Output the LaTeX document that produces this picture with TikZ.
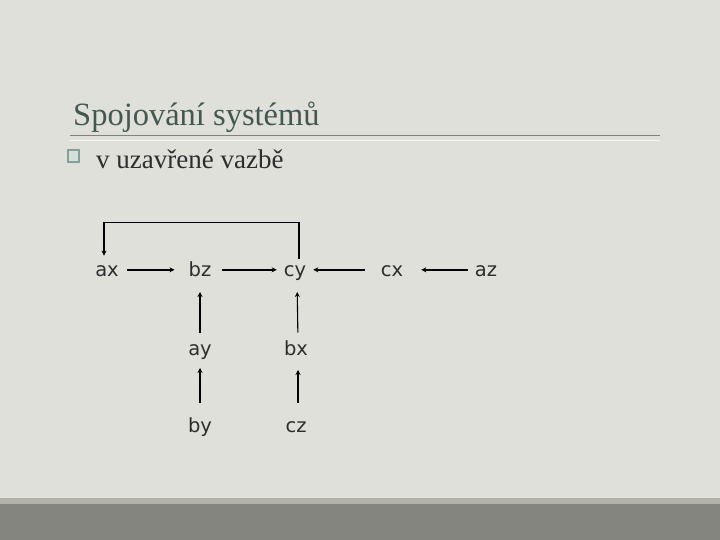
\documentclass[tikz,border=0pt]{standalone}
\usepackage{fontspec}
\setmainfont{Liberation Serif}
\setsansfont{DejaVu Sans}
\usepackage{tikz}
\usetikzlibrary{positioning,arrows.meta}
\definecolor{slidebg}{RGB}{224,224,218}
\definecolor{bandgray}{RGB}{132,133,126}
\definecolor{stripgray}{RGB}{178,178,171}
\definecolor{titlegray}{RGB}{68,88,82}
\definecolor{textgray}{RGB}{45,45,45}
\definecolor{rulegray}{RGB}{128,130,124}
\definecolor{boxfill}{RGB}{214,224,219}
\definecolor{boxedge}{RGB}{130,162,152}

\begin{document}
\begin{tikzpicture}[x=1pt,y=-1pt,
    sys/.style={font=\sffamily\fontsize{19.5}{19.5}\selectfont, text=textgray, inner sep=0pt, text height=14pt, text depth=0pt, anchor=south},
    link/.style={-{Stealth[length=5pt,width=5pt]}, line width=1.5pt},
    thinlink/.style={link, line width=1.1pt}]
                % slide background
                \fill[slidebg] (0,0) rectangle (720,540);
                \fill[stripgray] (0,498) rectangle (720,504);
                \fill[bandgray] (0,504) rectangle (720,540);

                % title and bullet
                \node[anchor=base west, inner sep=0pt, text=titlegray, font=\fontsize{32.5}{32.5}\selectfont] (title) at (73,126) {Spojování systémů};
                \draw[rulegray, line width=1pt] (70,136) -- (660,136);
                \draw[white!70!slidebg, line width=0.8pt] (70,140) -- (660,140);
                \filldraw[fill=boxfill, draw=boxedge, line width=1.2pt] (68,150) rectangle (79,162);
                \node[anchor=base west, inner sep=0pt, text=textgray, font=\fontsize{27}{27}\selectfont] (item) at (96,169) {v uzavřené vazbě};

                % systems
                \node[sys] (ax) at (107,277) {ax};
                \node[sys] (bz) at (200,277) {bz};
                \node[sys] (cy) at (295,277) {cy};
                \node[sys] (cx) at (392,277) {cx};
                \node[sys] (az) at (486,277) {az};
                \node[sys] (ay) at (200,356) {ay};
                \node[sys] (bx) at (296,356) {bx};
                \node[sys] (by) at (200,433) {by};
                \node[sys] (cz) at (296,433) {cz};

                % connections
                \draw[link, shorten <=8pt, shorten >=14pt] (ax) -- (bz);
                \draw[link, shorten <=10pt, shorten >=7pt] (bz) -- (cy);
                \draw[link, shorten <=16pt, shorten >=7pt] (cx) -- (cy);
                \draw[link, shorten <=7pt, shorten >=18pt] (az) -- (cx);
                \draw[link, shorten <=9pt, shorten >=15pt] (ay) -- (bz);
                \draw[link, shorten <=16pt, shorten >=12pt] (by) -- (ay);
                \draw[thinlink, shorten <=9pt, shorten >=15pt] ([xshift=2pt]bx.north) -- ([xshift=2pt]cy.south);
                \draw[thinlink, shorten <=16pt, shorten >=14pt] ([xshift=2pt]cz.north) -- ([xshift=2pt]bx.south);
                \draw[thinlink, shorten <=4pt, shorten >=7pt] ([xshift=4pt]cy.north) -- ++(0,-40) -| ([xshift=-3pt]ax.north);
\end{tikzpicture}
\end{document}
